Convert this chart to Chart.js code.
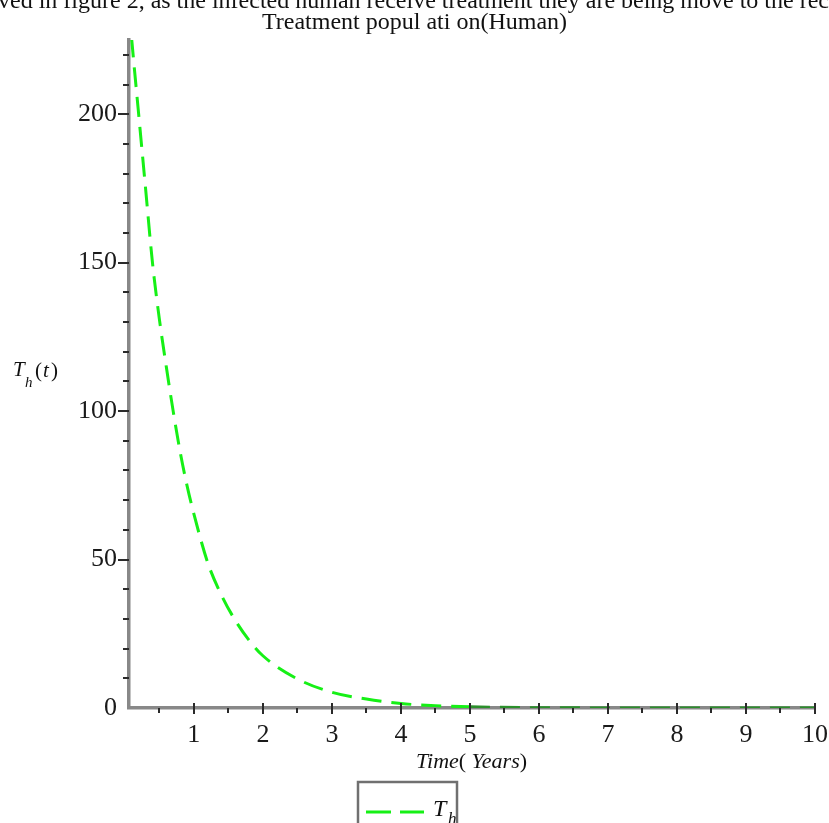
<!DOCTYPE html>
<html>
<head>
<meta charset="utf-8">
<script src="https://cdn.jsdelivr.net/npm/chart.js@4/dist/chart.umd.min.js"></script>
<style>
html,body{margin:0;padding:0;background:#fff;}
canvas{display:block;}
</style>
</head>
<body>
<canvas id="c" width="829" height="823"></canvas>
<script>
// ---- data ----
const timeYears = [0.06, 0.1, 0.2, 0.3, 0.4, 0.5, 0.6, 0.7, 0.8, 0.9, 1.0, 1.2, 1.4, 1.6, 1.8, 2.0, 2.5, 3.0, 3.5, 4.0, 4.5, 5, 6, 7, 8, 9, 10];
const treatedHumans = [236, 225, 200, 175, 150, 131, 115, 100, 86.4, 75, 65.4, 49, 38, 29.5, 22.8, 17.6, 9.8, 5.3, 3.0, 1.5, 0.8, 0.4, 0.1, 0.03, 0.01, 0, 0];
const xTickLabels = [1, 2, 3, 4, 5, 6, 7, 8, 9, 10];
const yTickLabels = [0, 50, 100, 150, 200];
const xMinorStep = 0.5;
const yMinorStep = 10;
const chartTitle = 'Treatment popul ati on(Human)';
const topLine = 'ved in figure 2, as the infected human receive treatment they are being move to the rec';
const seriesLabel = 'T_h';

const SERIF = '"Liberation Serif", "DejaVu Serif", serif';
const GREEN = '#16f016';
const DARKGREEN = '#2b8f2b';

const decor = {
  id: 'decor',
  afterDraw(chart) {
    const ctx = chart.ctx;
    const xs = chart.scales.x, ys = chart.scales.y;
    const area = chart.chartArea;
    ctx.save();
    // tick marks
    ctx.strokeStyle = '#2a2a2a';
    ctx.lineWidth = 2;
    const axisY = area.bottom, axisX = area.left;
    for (let v = xMinorStep; v <= xs.max + 1e-9; v += xMinorStep) {
      const px = Math.round(xs.getPixelForValue(v));
      const major = Math.abs(v - Math.round(v)) < 1e-9;
      ctx.beginPath();
      if (major) { ctx.moveTo(px, axisY - 5); ctx.lineTo(px, axisY + 6); }
      else { ctx.moveTo(px, axisY); ctx.lineTo(px, axisY + 5); }
      ctx.stroke();
    }
    for (let v = yMinorStep; v <= ys.max + 1e-9; v += yMinorStep) {
      const py = Math.round(ys.getPixelForValue(v));
      const major = v % 50 === 0;
      ctx.beginPath();
      ctx.moveTo(axisX - (major ? 11 : 6), py);
      ctx.lineTo(axisX, py);
      ctx.stroke();
    }
    // top cut-off sentence
    ctx.fillStyle = '#111';
    ctx.textBaseline = 'alphabetic';
    ctx.textAlign = 'left';
    ctx.font = '24px ' + SERIF;
    ctx.fillText(topLine, -2, 8);

    // y axis title T_h(t)
    const it = (s) => 'italic ' + s + 'px ' + SERIF;
    ctx.font = it(21); ctx.fillText('T', 13, 376);
    ctx.font = it(15); ctx.fillText('h', 25, 387);
    ctx.font = '21px ' + SERIF; ctx.fillText('(', 35, 377);
    ctx.font = it(21); ctx.fillText('t', 43, 377);
    ctx.font = '21px ' + SERIF; ctx.fillText(')', 51, 377);

    // x axis title Time( Years)
    let x = 416; const by = 768;
    const parts = [['Time', it(22)], ['(', '22px ' + SERIF], [' Years', it(22)], [')', '22px ' + SERIF]];
    for (const [t, f] of parts) { ctx.font = f; ctx.fillText(t, x, by); x += ctx.measureText(t).width; }

    // legend
    const ds = chart.data.datasets[0];
    ctx.strokeStyle = '#707070';
    ctx.lineWidth = 2.5;
    ctx.strokeRect(358, 782, 99, 60);
    ctx.strokeStyle = ds.borderColor;
    ctx.lineWidth = 3;
    ctx.setLineDash([25, 9]);
    ctx.beginPath(); ctx.moveTo(366, 812); ctx.lineTo(424, 812); ctx.stroke();
    ctx.setLineDash([]);
    ctx.fillStyle = '#111';
    ctx.font = it(24); ctx.fillText(seriesLabel.split('_')[0], 433, 816);
    ctx.font = it(17); ctx.fillText(seriesLabel.split('_')[1], 448, 824);
    ctx.restore();
  }
};

new Chart(document.getElementById('c'), {
  type: 'line',
  data: {
    datasets: [{
      label: seriesLabel,
      data: timeYears.map((t, i) => ({x: t, y: treatedHumans[i]})),
      borderColor: GREEN,
      borderWidth: 3,
      borderDash: [20, 10],
      pointRadius: 0,
      tension: 0.4,
      cubicInterpolationMode: 'monotone',
      fill: false,
      segment: {
        borderColor: c => (c.p0.parsed.y < 0.6 ? DARKGREEN : undefined)
      }
    }]
  },
  options: {
    responsive: false,
    animation: false,
    devicePixelRatio: 1,
    layout: {padding: {left: 14, right: 14, top: 0, bottom: 0}},
    plugins: {
      legend: {display: false},
      tooltip: {enabled: false},
      title: {
        display: true,
        text: chartTitle,
        color: '#111',
        font: {family: SERIF, size: 24, weight: 'normal', lineHeight: 1.1},
        padding: {top: 10, bottom: 3.6}
      }
    },
    scales: {
      x: {
        type: 'linear',
        min: 0.06, max: 10,
        afterBuildTicks: s => { s.ticks = xTickLabels.map(v => ({value: v})); },
        afterFit: s => { s.height = 115; s.paddingLeft = 0; s.paddingRight = 0; },
        grid: {display: false, drawTicks: false},
        border: {display: true, color: '#888', width: 3.5},
        ticks: {
          autoSkip: false, maxRotation: 0,
          padding: 12, color: '#1a1a1a',
          font: {family: SERIF, size: 26}
        }
      },
      y: {
        type: 'linear',
        min: 0, max: 225,
        afterBuildTicks: s => { s.ticks = yTickLabels.map(v => ({value: v})); },
        afterFit: s => { s.width = 115; s.paddingTop = 0; s.paddingBottom = 0; },
        grid: {display: false, drawTicks: false},
        border: {display: true, color: '#888', width: 3.5},
        ticks: {
          autoSkip: false, padding: 12, color: '#1a1a1a',
          font: {family: SERIF, size: 26}
        }
      }
    }
  },
  plugins: [decor]
});
</script>
</body>
</html>
